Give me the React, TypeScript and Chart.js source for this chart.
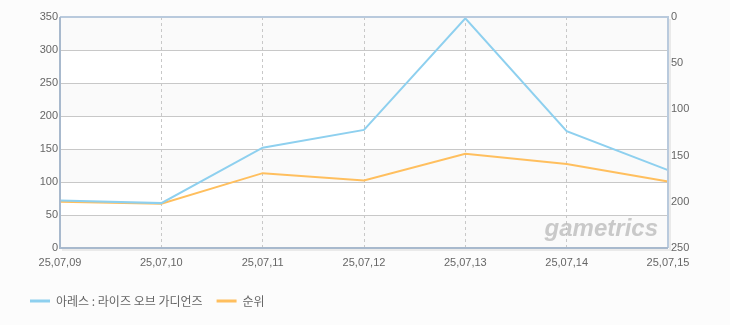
import React, { useEffect, useRef } from "react";
import { Chart, registerables } from "chart.js";

Chart.register(...registerables);

const categories = ["25,07,09", "25,07,10", "25,07,11", "25,07,12", "25,07,13", "25,07,14", "25,07,15"];
const seriesName = "아레스 : 라이즈 오브 가디언즈";
const seriesValues = [72, 68, 152, 179, 348, 177, 118];
const rankName = "순위";
const rankValues = [200, 202, 169, 177, 148, 159, 178];
const leftTicks = [0, 50, 100, 150, 200, 250, 300, 350];
const rightTicks = [0, 50, 100, 150, 200, 250];

const BLUE = "#8ed0ef";
const ORANGE = "#ffbf5e";
const FONT = "'Liberation Sans', Arial, sans-serif";

const decorPlugin = {
  id: "decor",
  beforeDraw(chart: any) {
    const { ctx, chartArea: a, width, height } = chart;
    const y = chart.scales.y;
    ctx.save();
    ctx.fillStyle = "#fcfcfc";
    ctx.fillRect(0, 0, width, height);
    ctx.fillStyle = "#ffffff";
    ctx.fillRect(a.left, a.top, a.right - a.left, a.bottom - a.top);
    ctx.fillStyle = "#fafafa";
    for (let i = 0; i < leftTicks.length - 1; i += 2) {
      const y0 = y.getPixelForValue(leftTicks[i]);
      const y1 = y.getPixelForValue(leftTicks[i + 1]);
      ctx.fillRect(a.left, y1, a.right - a.left, y0 - y1);
    }
    ctx.restore();
  },
  afterDatasetsDraw(chart: any) {
    const { ctx, chartArea: a } = chart;
    ctx.save();
    // watermark
    ctx.font = "italic bold 24px " + FONT;
    ctx.fillStyle = "rgba(180,180,180,0.7)";
    ctx.textAlign = "right";
    ctx.textBaseline = "alphabetic";
    ctx.fillText("gametrics", a.right - 10, a.bottom - 12);
    // shadows
    ctx.strokeStyle = "rgba(0,0,0,0.07)";
    ctx.lineWidth = 2;
    ctx.beginPath();
    ctx.moveTo(a.right + 2, a.top + 2);
    ctx.lineTo(a.right + 2, a.bottom + 2);
    ctx.lineTo(a.left + 2, a.bottom + 2);
    ctx.stroke();
    // frame
    ctx.lineWidth = 2;
    ctx.strokeStyle = "#b9cadd";
    ctx.beginPath();
    ctx.moveTo(a.left, a.top);
    ctx.lineTo(a.right, a.top);
    ctx.lineTo(a.right, a.bottom);
    ctx.stroke();
    ctx.strokeStyle = "#a8b9cd";
    ctx.beginPath();
    ctx.moveTo(a.left, a.top);
    ctx.lineTo(a.left, a.bottom);
    ctx.lineTo(a.right, a.bottom);
    ctx.stroke();
    ctx.restore();
  },
};

export default function App() {
  const ref = useRef<HTMLCanvasElement>(null);
  useEffect(() => {
    document.body.style.margin = "0";
    const chart = new Chart(ref.current as HTMLCanvasElement, {
      type: "line",
      data: {
        labels: categories,
        datasets: [
          {
            label: seriesName,
            data: seriesValues,
            borderColor: BLUE,
            backgroundColor: BLUE,
            borderWidth: 2,
            pointRadius: 0,
            tension: 0,
            yAxisID: "y",
          },
          {
            label: rankName,
            data: rankValues,
            borderColor: ORANGE,
            backgroundColor: ORANGE,
            borderWidth: 2,
            pointRadius: 0,
            tension: 0,
            yAxisID: "y2",
          },
        ],
      },
      options: {
        responsive: false,
        animation: false,
        layout: { padding: { top: 17, left: 16, right: 0, bottom: 8 } },
        plugins: {
          tooltip: { enabled: false },
          legend: {
            position: "bottom",
            align: "start",
            labels: {
              boxWidth: 20,
              boxHeight: 3,
              padding: 14,
              color: "#666",
              font: { family: "'Noto Sans CJK KR', sans-serif", size: 12 },
              generateLabels(c: any) {
                const items = Chart.defaults.plugins.legend.labels.generateLabels(c);
                return items.map((it: any) => ({ ...it, lineWidth: 0 }));
              },
            },
          },
        },
        scales: {
          x: {
            grid: { color: "#c8c8c8", drawTicks: false, lineWidth: 1 },
            border: { display: false, dash: [3, 3] },
            ticks: {
              color: "#666",
              font: { family: FONT, size: 11 },
              padding: 8,
              maxRotation: 0,
              autoSkip: false,
            },
            afterFit(s: any) {
              s.height = 33;
            },
          },
          y: {
            position: "left",
            min: 0,
            max: 350,
            afterBuildTicks(s: any) {
              s.ticks = leftTicks.map((v) => ({ value: v }));
            },
            grid: { color: "#c8c8c8", drawTicks: false, lineWidth: 1 },
            border: { display: false },
            ticks: { color: "#666", font: { family: FONT, size: 11 }, padding: 2 },
            afterFit(s: any) {
              s.width = 44;
            },
          },
          y2: {
            position: "right",
            reverse: true,
            min: 0,
            max: 250,
            afterBuildTicks(s: any) {
              s.ticks = rightTicks.map((v) => ({ value: v }));
            },
            grid: { display: false, drawTicks: false },
            border: { display: false },
            ticks: { color: "#666", font: { family: FONT, size: 11 }, padding: 3 },
            afterFit(s: any) {
              s.width = 62;
            },
          },
        },
      },
      plugins: [decorPlugin],
    } as any);
    return () => chart.destroy();
  }, []);
  return (
    <div style={{ width: 730, height: 325 }}>
      <canvas ref={ref} width={730} height={325} />
    </div>
  );
}
